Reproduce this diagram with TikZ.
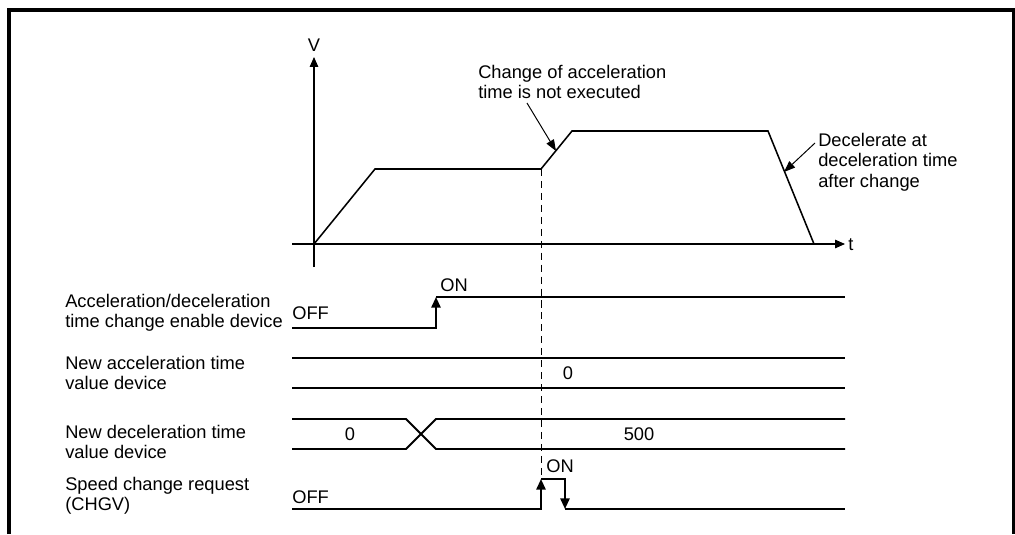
\documentclass[tikz,border=0pt]{standalone}
\usepackage{fontspec}
\setmainfont{Liberation Sans}
\usetikzlibrary{arrows.meta}
\tikzset{
	labeltext/.style={
			anchor=west,
			align=left,
			inner sep=0pt,
			font=\fontsize{13}{14.5}\selectfont
		},
	valuetext/.style={
			inner sep=0pt,
			font=\fontsize{13}{14.5}\selectfont
		},
	framebar/.style={
			line width=2.8pt
		},
	axisline/.style={
			line width=0.8pt,
			-{Triangle[length=7pt,width=6pt]}
		},
	profile/.style={
			line width=1.1pt,
			line join=miter
		},
	signal/.style={
			line width=1.4pt
		},
	signalup/.style={
			signal,
			-{Triangle[length=7.5pt,width=6.5pt]}
		},
	pointer/.style={
			line width=0.7pt,
			-{Triangle[length=8pt,width=6pt]}
		},
	guide/.style={
			line width=0.6pt,
			dash pattern=on 5pt off 3.5pt
		}
}

\begin{document}
\begin{tikzpicture}[x=0.025cm, y=-0.025cm]

  \useasboundingbox (0,0) rectangle (1015,534);

  \draw[framebar] (9,534) -- (9,10) -- (1014,10) -- (1014,534);

  \coordinate (origin) at (314,244);
  \node[valuetext] (vlabel) at (314,45) {V};
  \node[valuetext, anchor=west] (tlabel) at (848,245) {t};
  \draw[axisline] (314,267) -- (314,57);
  \draw[axisline] (292,244) -- (845,244);

  \coordinate (acc1) at (375,169);
  \coordinate (chg) at (541,169);
  \coordinate (acc2) at (572,131);
  \coordinate (dec) at (768,131);
  \coordinate (stop) at (814,244);
  \draw[profile] (origin) -- (acc1) -- (chg) -- (acc2) -- (dec) -- (stop);

  \node[labeltext] (note1) at (478,82) {Change of acceleration\\time is not executed};
  \node[labeltext] (note2) at (818,162) {Decelerate at\\deceleration time\\after change};
  \coordinate (note1tail) at (527,103);
  \coordinate (note1tip) at (556,151);
  \coordinate (note2tail) at (815,143);
  \coordinate (note2tip) at (784,172);
  \draw[pointer] (note1tail) -- (note1tip);
  \draw[pointer] (note2tail) -- (note2tip);

  \node[labeltext] (r1) at (65,313) {Acceleration/deceleration\\time change enable device};
  \node[labeltext] (r2) at (65,373) {New acceleration time\\value device};
  \node[labeltext] (r3) at (65,442) {New deceleration time\\value device};
  \node[labeltext] (r4) at (65,496) {Speed change request\\(CHGV)};

  \node[valuetext, anchor=west] (off1) at (292,313) {OFF};
  \node[valuetext, anchor=west] (on1) at (440,285) {ON};
  \draw[signalup] (292,328) -- (436,328) -- (436,297);
  \draw[signal] (436,297) -- (845,297);

  \draw[signal] (292,358) -- (845,358);
  \draw[signal] (292,388) -- (845,388);
  \node[valuetext] (acc0) at (568,373) {0};

  \draw[signal] (292,419) -- (406,419) -- (436,449) -- (845,449);
  \draw[signal] (292,449) -- (406,449) -- (436,419) -- (845,419);
  \node[valuetext] (dec0) at (350,434) {0};
  \node[valuetext] (dec500) at (639,434) {500};

  \node[valuetext, anchor=west] (off4) at (292,497) {OFF};
  \node[valuetext, anchor=west] (on4) at (546,466) {ON};
  \draw[signalup] (292,509) -- (541,509) -- (541,479);
  \draw[signalup] (541,479) -- (565,479) -- (565,509);
  \draw[signal] (565,509) -- (845,509);

  \draw[guide] (chg) -- (541,479);

\end{tikzpicture}
\end{document}
